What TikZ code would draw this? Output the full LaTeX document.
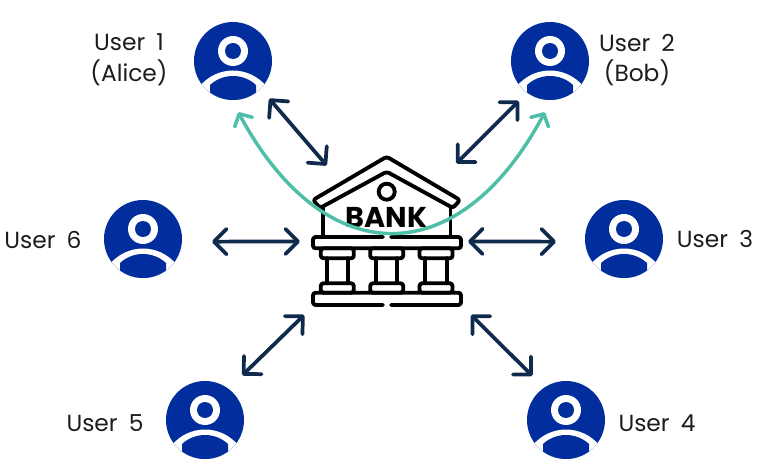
\documentclass[tikz,border=0pt]{standalone}
\usepackage{fontspec}
\setmainfont{Poppins}
\newfontfamily\labelfont[WordSpace=1.8]{Poppins}
\definecolor{userblue}{HTML}{012E9C}
\definecolor{arrownavy}{HTML}{0F2A4D}
\definecolor{paygreen}{HTML}{4CBFA6}
\definecolor{labelgrey}{HTML}{1C1C1C}
\usetikzlibrary{arrows.meta,positioning,calc}

\begin{document}
\begin{tikzpicture}[
  x=0.75pt, y=-0.75pt,
  usericon/.style={circle, fill=userblue, minimum size=58.5pt, inner sep=0pt, outer sep=0pt,
    path picture={
      \begin{scope}[shift={(path picture bounding box.center)}]
        \fill[white] (0,-10) circle (15);
        \fill[userblue] (0,-10) circle (8);
        \fill[white] (-34,26) .. controls (-16,4) and (16,4) .. (34,26) -- (34,45) -- (-34,45) -- cycle;
        \fill[userblue] (-23,24) .. controls (-10,12) and (10,12) .. (23,24) -- (23,45) -- (-23,45) -- cycle;
      \end{scope}
    }},
  userlabel/.style={text=labelgrey, align=center, font=\labelfont\fontsize{17.5}{23}\selectfont},
  bankarea/.style={circle, minimum size=112.5pt, inner sep=0pt, outer sep=0pt},
  bankline/.style={draw=black, line width=2.9pt, rounded corners=2pt, line join=round, line cap=round},
  link/.style={draw=arrownavy, line width=2.8pt, line cap=round,
    {Straight Barb[length=9.5pt,width=19pt,round]}-{Straight Barb[length=9.5pt,width=19pt,round]}},
  transfer/.style={draw=paygreen, line width=2.6pt, line cap=round,
    {Straight Barb[length=7pt,width=15pt,round]}-{Straight Barb[length=7pt,width=15pt,round]}}
]
  \useasboundingbox (0,0) rectangle (764,470);

  % users
  \node[usericon] (u1) at (233,61) {};
  \node[usericon] (u2) at (550,61) {};
  \node[usericon] (u3) at (624,239) {};
  \node[usericon] (u4) at (566,420) {};
  \node[usericon] (u5) at (205,420) {};
  \node[usericon] (u6) at (143,239) {};

  \node[userlabel] (l1) at (129,60) {User 1\\(Alice)};
  \node[userlabel] (l2) at (637,60) {User 2\\(Bob)};
  \node[userlabel] (l3) at (715,239) {User 3};
  \node[userlabel] (l4) at (657,423) {User 4};
  \node[userlabel] (l5) at (105,423) {User 5};
  \node[userlabel] (l6) at (43,240) {User 6};

  % bank
  \node[bankarea] (bank) at (387,231) {};
  \path[bankline] (386.7,156.7) -- (460,200) -- (453,208) -- (386.7,171.7) -- (320,208) -- (313,200) -- cycle;
  \path[bankline, rounded corners=0pt] (323,208) -- (323,237);
  \path[bankline, rounded corners=0pt] (450.5,208) -- (450.5,237);
  \path[bankline] (383,237) -- (313,237) -- (313,248.3) -- (461,248.3) -- (461,237) -- (391,237);
  \path[bankline] (391,305) -- (461,305) -- (461,292.7) -- (313,292.7) -- (313,305) -- (383,305);
  \foreach \cx in {337.3,386.7,436} {
    \path[bankline] ($(\cx,248.3)+(-16.5,0)$) rectangle ($(\cx,258.3)+(16.5,0)$);
    \path[bankline] ($(\cx,283.3)+(-16.5,0)$) rectangle ($(\cx,292.7)+(16.5,0)$);
    \path[bankline, rounded corners=0pt] ($(\cx,258.3)+(-10.7,0)$) -- ($(\cx,283.3)+(-10.7,0)$);
    \path[bankline, rounded corners=0pt] ($(\cx,258.3)+(10.7,0)$) -- ($(\cx,283.3)+(10.7,0)$);
  }
  \node[draw=black, line width=2.9pt, circle, minimum size=12pt, inner sep=0pt] (seal) at (386.7,191.7) {};
  \node[font=\fontsize{21.5}{22}\selectfont\bfseries, inner sep=0pt] (banktext) at (386.7,217.7) {BANK};

  % links
  \draw[link, shorten <=10pt, shorten >=10.6pt] (u1.-45.5) -- (bank.133.7);
  \draw[link, shorten <=8.9pt, shorten >=16.4pt] (u2.234.5) -- (bank.44.6);
  \draw[link, shorten <=21.8pt, shorten >=5.1pt] (u3.184.4) -- (bank.-8.4);
  \draw[link, shorten <=12.6pt, shorten >=32.9pt] (u4.124.5) -- (bank.-45);
  \draw[link, shorten <=14.6pt, shorten >=32.3pt] (u5.53.7) -- (bank.226);
  \draw[link, shorten <=22.6pt, shorten >=9.6pt] (u6.-4.4) -- (bank.188.4);

  % transfer
  \draw[transfer, shorten <=10.5pt, shorten >=10.5pt] (u1.-92) .. controls (325,273) and (459,273) .. (u2.-88);
\end{tikzpicture}
\end{document}
